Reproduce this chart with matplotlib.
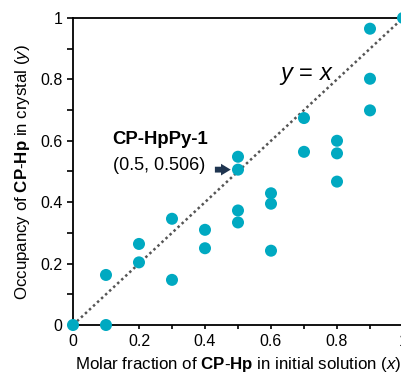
import numpy as np
import matplotlib
matplotlib.use("Agg")
import matplotlib.pyplot as plt
from matplotlib.ticker import MultipleLocator

plt.rcParams['font.family'] = ['Liberation Sans', 'DejaVu Sans']
plt.rcParams['mathtext.fontset'] = 'custom'
plt.rcParams['mathtext.rm'] = 'Liberation Sans'
plt.rcParams['mathtext.bf'] = 'Liberation Sans:bold'
plt.rcParams['mathtext.it'] = 'Liberation Sans:italic'

# ********************** DATA **********************
x_frac = [0.0, 0.1, 0.1, 0.2, 0.2, 0.3, 0.3, 0.4, 0.4,
          0.5, 0.5, 0.5, 0.5, 0.6, 0.6, 0.6, 0.7, 0.7,
          0.8, 0.8, 0.8, 0.9, 0.9, 0.9, 1.0]
y_occ = [0.0, 0.163, 0.0, 0.264, 0.204, 0.346, 0.147, 0.310, 0.250,
         0.548, 0.506, 0.373, 0.334, 0.429, 0.395, 0.242, 0.674, 0.564,
         0.600, 0.559, 0.467, 0.965, 0.802, 0.699, 1.0]
y_ticks = [0, 0.2, 0.4, 0.6, 0.8, 1.0]
y_ticklabels = ["0", "0.2", "0.4", "0.6", "0.8", "1"]
x_ticks = [0, 0.2, 0.4, 0.6, 0.8, 1.0]
x_ticklabels = ["0", "0.2", "0.4", "0.6", "0.8", "1"]
highlight = (0.5, 0.506)

# ******************************* PLOTTING *******************************
fig = plt.figure(figsize=(4.01, 3.74), dpi=100)
ax = fig.add_axes([0.182, 0.131, 0.823, 0.821])

ax.plot([0, 1], [0, 1], linestyle=(0, (1, 1.2)), color="#555555", linewidth=1.8, zorder=1)
ax.scatter(x_frac, y_occ, s=75, color="#00A9C1", edgecolors="none", zorder=3, clip_on=False)

ax.text(0.625, 0.81, "$y$ = $x$", fontsize=17, va="center", ha="left")
ax.text(0.12, 0.603, "CP-HpPy-1", fontsize=13.3, fontweight="bold", va="center", ha="left")
ax.text(0.12, 0.518, "(0.5, 0.506)", fontsize=13, va="center", ha="left")
ax.annotate("", xy=(highlight[0] - 0.022, highlight[1]), xytext=(0.43, highlight[1]),
            arrowprops=dict(arrowstyle="simple,head_length=0.5,head_width=0.6,tail_width=0.3",
                            color="#1f3550", lw=0, mutation_scale=14,
                            shrinkA=0, shrinkB=0))

ax.set_xlim(0, 1)
ax.set_ylim(0, 1)
ax.set_xticks(x_ticks)
ax.set_xticklabels(x_ticklabels)
ax.set_yticks(y_ticks)
ax.set_yticklabels(y_ticklabels)
ax.xaxis.set_minor_locator(MultipleLocator(0.1))
ax.yaxis.set_minor_locator(MultipleLocator(0.1))
ax.tick_params(axis="both", which="both", direction="out", labelsize=11.5, width=1.2)
ax.tick_params(axis="x", which="both", length=3)
ax.tick_params(axis="y", which="both", length=4)
for s in ax.spines.values():
    s.set_linewidth(1.3)

ax.set_xlabel(r"Molar fraction of $\mathbf{CP}$-$\mathbf{Hp}$ in initial solution ($x$)", fontsize=12.2, labelpad=4)
ax.set_ylabel(r"Occupancy of $\mathbf{CP}$-$\mathbf{Hp}$ in crystal ($y$)", fontsize=12.2, labelpad=6)

fig.savefig("out.png", dpi=100)
